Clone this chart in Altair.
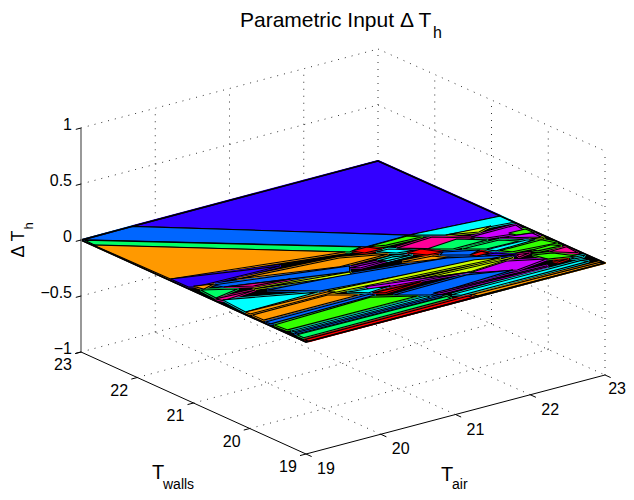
import altair as alt
import pandas as pd

# colours of the map regions
V, B, G1, O, G2 = "#3300ff", "#0066ff", "#00ff66", "#ff9900", "#33ff00"
Y, C, M, P, R = "#ccff00", "#00ffff", "#ff0099", "#cc00ff", "#ff0000"

# regions on the plane: (T_air, T_walls) vertices, back to front
plane_outline = [(19, 23), (23, 23), (23, 19), (19, 19)]
region_colors = [V, C, Y, P, G2, P, Y, B, G2, M, G1, G1, O, R, C, R, B, G1, C, G2, R, V, M, G2, M,
                 G2, C, R, O, V, B, P, C, O, M, O, G1, M, Y, B, Y, P, Y, P, C, R, B, P, C, O,
                 C, O, O, B, G2, C, B, G1, R]
region_vertices = [
    [(19.69, 23), (23, 23), (23, 20.84), (21.87, 20.97)],
    [(21.87, 20.97), (23, 20.84), (23, 20.6), (22.18, 20.73)],
    [(22.18, 20.73), (22.73, 20.66), (22.52, 20.59)],
    [(22.36, 20.52), (22.96, 20.52), (22.92, 20.28), (22.47, 20.39)],
    [(22.75, 20.37), (22.97, 20.36), (22.97, 20.2), (22.78, 20.27)],
    [(22.58, 20.31), (22.95, 20.22), (22.95, 20.06)],
    [(22.81, 20.09), (22.96, 20.05), (22.94, 19.99)],
    [(19.02, 22.99), (19.69, 23), (21.87, 20.97), (21.29, 20.96)],
    [(21.29, 20.95), (21.84, 20.96), (21.94, 20.84), (21.49, 20.87)],
    [(21.52, 20.73), (22.03, 20.77), (22.37, 20.47), (21.87, 20.43)],
    [(21.76, 20.51), (22.2, 20.56), (22.44, 20.34), (21.98, 20.34)],
    [(19.03, 22.97), (21.24, 20.99), (21.05, 20.94), (19.02, 22.78)],
    [(19.01, 22.8), (21.01, 20.97), (19.03, 21.45)],
    [(21.09, 20.95), (21.29, 20.95), (21.38, 20.8), (21.16, 20.82)],
    [(21.28, 20.77), (21.44, 20.76), (21.65, 20.55), (21.43, 20.61)],
    [(21.52, 20.54), (21.71, 20.55), (21.84, 20.33), (21.65, 20.36)],
    [(21.84, 20.33), (22.19, 20.14), (22.01, 20.08), (21.76, 20.28)],
    [(22.06, 20.28), (22.54, 20.26), (22.69, 20.1), (22.26, 20.12)],
    [(22.25, 20.1), (22.77, 20.08), (22.84, 20.03), (22.31, 20.01)],
    [(22.34, 19.99), (22.9, 19.99), (22.97, 19.81), (22.43, 19.88)],
    [(22.01, 20.08), (22.18, 20.1), (22.21, 20.0), (22.05, 20.01)],
    [(22.14, 19.99), (22.27, 19.96), (22.41, 19.77), (22.2, 19.86)],
    [(22.41, 19.78), (22.55, 19.74), (22.39, 19.71)],
    [(22.63, 19.8), (22.89, 19.8), (22.95, 19.71), (22.66, 19.74)],
    [(22.74, 19.64), (22.98, 19.65), (22.96, 19.43)],
    [(22.54, 19.67), (22.75, 19.59), (22.89, 19.36), (22.59, 19.47)],
    [(22.8, 19.35), (22.98, 19.33), (22.93, 19.29), (22.82, 19.3)],
    [(22.6, 19.39), (22.76, 19.34), (22.62, 19.33)],
    [(19.59, 21.01), (20.85, 20.86), (21.33, 20.64), (20.69, 20.64)],
    [(19.03, 21.45), (20.2, 21.05), (19.09, 21.09), (19.03, 21.13)],
    [(19.28, 21.02), (20.79, 20.6), (20.68, 20.45), (19.33, 20.9)],
    [(20.75, 20.55), (21.5, 20.48), (20.84, 20.48)],
    [(21.12, 20.54), (21.32, 20.54), (21.52, 20.46), (21.2, 20.48)],
    [(21.31, 20.35), (21.68, 20.3), (21.77, 20.15), (21.4, 20.28)],
    [(19.33, 20.9), (20.04, 20.66), (19.6, 20.73)],
    [(19.09, 21.12), (19.3, 21.04), (19.12, 20.98)],
    [(19.08, 20.98), (19.41, 20.76), (19.06, 20.68)],
    [(19.04, 20.66), (19.54, 20.62), (19.07, 20.56)],
    [(19.54, 20.66), (20.68, 20.45), (20.64, 20.36)],
    [(19.64, 20.54), (20.52, 20.41), (21.76, 20.16), (22.35, 19.82), (20.07, 20.17)],
    [(20.13, 20.12), (21.96, 19.93), (22.21, 19.81), (20.15, 20.04)],
    [(21.67, 19.64), (22.21, 19.69), (22.59, 19.48), (22.13, 19.4)],
    [(21.14, 19.81), (22.32, 19.73), (21.69, 19.66)],
    [(20.53, 19.98), (21.69, 19.66), (20.51, 19.87)],
    [(20.28, 19.97), (20.76, 19.84), (20.44, 19.81)],
    [(20.48, 19.78), (21.09, 19.74), (20.59, 19.7)],
    [(20.62, 19.59), (21.61, 19.61), (22.09, 19.43), (20.93, 19.35)],
    [(20.99, 19.38), (22.46, 19.31), (22.44, 19.28), (21.05, 19.34)],
    [(21.12, 19.22), (22.85, 19.22), (22.89, 19.15), (21.18, 19.14)],
    [(21.29, 19.09), (22.98, 19.05), (23, 19), (21.31, 19.02)],
    [(19.08, 20.59), (20.03, 20.16), (19.05, 20.14)],
    [(19.05, 20.14), (20.11, 20.1), (20.18, 20.05), (19.05, 20.06)],
    [(19.05, 20.02), (20.06, 20.02), (20.32, 19.82), (19.05, 19.82)],
    [(19.03, 19.76), (20.44, 19.77), (20.46, 19.71), (19.04, 19.68)],
    [(19.05, 19.63), (20.38, 19.69), (20.8, 19.41), (19.07, 19.42)],
    [(19.08, 19.37), (20.88, 19.35), (20.89, 19.3), (19.09, 19.33)],
    [(19.07, 19.3), (20.99, 19.26), (20.99, 19.22), (19.07, 19.26)],
    [(19.06, 19.24), (21.04, 19.21), (21.04, 19.13), (19.06, 19.12)],
    [(19.03, 19.07), (21.23, 19.08), (21.24, 19.01), (19.04, 19.0)],
]

air_ticks = [19, 20, 21, 22, 23]
walls_ticks = [19, 20, 21, 22, 23]
z_ticks = [-1, -0.5, 0, 0.5, 1]
z_labels = ["\u22121", "\u22120.5", "0", "0.5", "1"]

# the 3-D view: where the floor corners of the box fall, and height of one z unit
FLOOR = {"bottom": (306, 454), "right": (605, 375), "left": (81, 352), "back": (378, 273)}
Z_UNIT = 112


def project(air, walls, z):
    a, w = (air - 19) / 4, (walls - 19) / 4
    c = [(1 - a) * (1 - w), a * (1 - w), (1 - a) * w, a * w]
    k = ["bottom", "right", "left", "back"]
    x = sum(ci * FLOOR[ki][0] for ci, ki in zip(c, k))
    y = sum(ci * FLOOR[ki][1] for ci, ki in zip(c, k)) - Z_UNIT * (z + 1)
    return x, y


W, H = 618, 484
X = alt.X("x:Q", scale=alt.Scale(domain=[8, 8 + W], range=[0, W]), axis=None)
Y_ENC = alt.Y("y:Q", scale=alt.Scale(domain=[8, 8 + H], range=[0, H]), axis=None)
X2 = alt.X2("x2:Q")
Y2 = alt.Y2("y2:Q")


def seg(p, q):
    x, y = project(*p)
    x2, y2 = project(*q)
    return {"x": x, "y": y, "x2": x2, "y2": y2}


grid = []
for a in air_ticks[1:]:
    grid.append(seg((a, 23, -1), (a, 23, 1)))
for w in walls_ticks[:-1]:
    grid.append(seg((23, w, -1), (23, w, 1)))
for z in z_ticks:
    grid.append(seg((19, 23, z), (23, 23, z)))
    grid.append(seg((23, 23, z), (23, 19, z)))
for a in air_ticks[1:-1]:
    grid.append(seg((a, 19, -1), (a, 23, -1)))
for w in walls_ticks[1:-1]:
    grid.append(seg((19, w, -1), (23, w, -1)))

axes = [seg((19, 23, -1), (19, 19, -1)), seg((19, 19, -1), (23, 19, -1))]
for a in air_ticks:
    axes.append(seg((a, 19, -1), (a, 18.9, -1)))
for w in walls_ticks:
    axes.append(seg((19, w, -1), (18.92, w, -1)))
for z in z_ticks:
    axes.append(seg((19, 23, z), (18.93, 23, z)))

grid_layer = alt.Chart(pd.DataFrame(grid)).mark_rule(color="#000000", strokeWidth=1, strokeDash=[1, 6], opacity=0.8).encode(
    x=X, y=Y_ENC, x2=X2, y2=Y2)
axes_layer = alt.Chart(pd.DataFrame(axes)).mark_rule(color="#000000", strokeWidth=1).encode(
    x=X, y=Y_ENC, x2=X2, y2=Y2)
z_axis_layer = alt.Chart(pd.DataFrame([seg((19, 23, -1), (19, 23, 1))])).mark_rule(
    color="#7f7f7f", strokeWidth=1.6).encode(x=X, y=Y_ENC, x2=X2, y2=Y2)


def poly_rows(polys):
    rows = []
    for i, (col, verts) in enumerate(polys):
        for j, (a, w) in enumerate(list(verts) + [verts[0]]):
            x, y = project(a, w, 0)
            rows.append({"poly": i, "seq": j, "x": x, "y": y, "col": col})
    return pd.DataFrame(rows)


regions = list(zip(region_colors, region_vertices))
base_layer = alt.Chart(poly_rows([("#000000", plane_outline)])).mark_line(
    stroke="#000000", strokeWidth=1.5, strokeJoin="round"
).encode(x=X, y=Y_ENC, detail="poly:N", order="seq:Q", fill=alt.Fill("col:N", scale=None))

under_layer = alt.Chart(poly_rows(regions)).mark_line(
    strokeWidth=2.2, strokeJoin="round"
).encode(x=X, y=Y_ENC, detail="poly:N", order="seq:Q",
         fill=alt.Fill("col:N", scale=None), stroke=alt.Stroke("col:N", scale=None))

poly_layer = alt.Chart(poly_rows(regions)).mark_line(
    stroke="#000000", strokeWidth=1.1, strokeJoin="round"
).encode(x=X, y=Y_ENC, detail="poly:N", order="seq:Q", fill=alt.Fill("col:N", scale=None))

outline_layer = alt.Chart(poly_rows([("#000000", plane_outline)])).mark_line(
    stroke="#000000", strokeWidth=1.6, strokeJoin="round"
).encode(x=X, y=Y_ENC, detail="poly:N", order="seq:Q")

FONT = "Liberation Sans"


def labels(rows_, align, dx, dy):
    return alt.Chart(pd.DataFrame(rows_)).mark_text(
        font=FONT, fontSize=16, color="#000000", align=align, baseline="middle", dx=dx, dy=dy
    ).encode(x=X, y=Y_ENC, text="t:N")


def lab(p, t):
    x, y = project(*p)
    return {"x": x, "y": y, "t": t}


walls_lab = labels([lab((19, w, -1), str(w)) for w in walls_ticks], "center", -18, 13)
air_lab = labels([lab((a, 19, -1), str(a)) for a in air_ticks[:-1]], "center", 20, 15)
air_last = labels([lab((23, 19, -1), str(air_ticks[-1]))], "right", 21, 14)
z_lab = labels([lab((19, 23, z), t) for z, t in zip(z_ticks, z_labels)], "right", -9, -3)


def free_text(t, px, py, size, align="left", angle=0):
    return alt.Chart(pd.DataFrame([{"t": t}])).mark_text(
        font=FONT, fontSize=size, color="#000000", align=align, baseline="middle", angle=angle
    ).encode(x=alt.value(px - 8), y=alt.value(py - 8), text="t:N")


texts = [
    free_text("Parametric Input \u0394 T", 240, 21, 21),
    free_text("h", 433, 33, 16),
    free_text("T", 152, 473, 20),
    free_text("walls", 163, 485, 14),
    free_text("T", 441, 475, 20),
    free_text("air", 452, 485, 14),
    free_text("\u0394 T", 18.5, 244, 18, "center", 270),
    free_text("h", 29, 226, 13, "center", 270),
]

chart = alt.layer(
    grid_layer, base_layer, under_layer, poly_layer, outline_layer,
    z_axis_layer, axes_layer, walls_lab, air_lab, air_last, z_lab, *texts
).properties(
    width=W, height=H, padding=0, autosize=alt.AutoSizeParams(type="none")
).configure_view(stroke=None)

chart.save("out.html", embed_options={"renderer": "svg", "actions": False})
